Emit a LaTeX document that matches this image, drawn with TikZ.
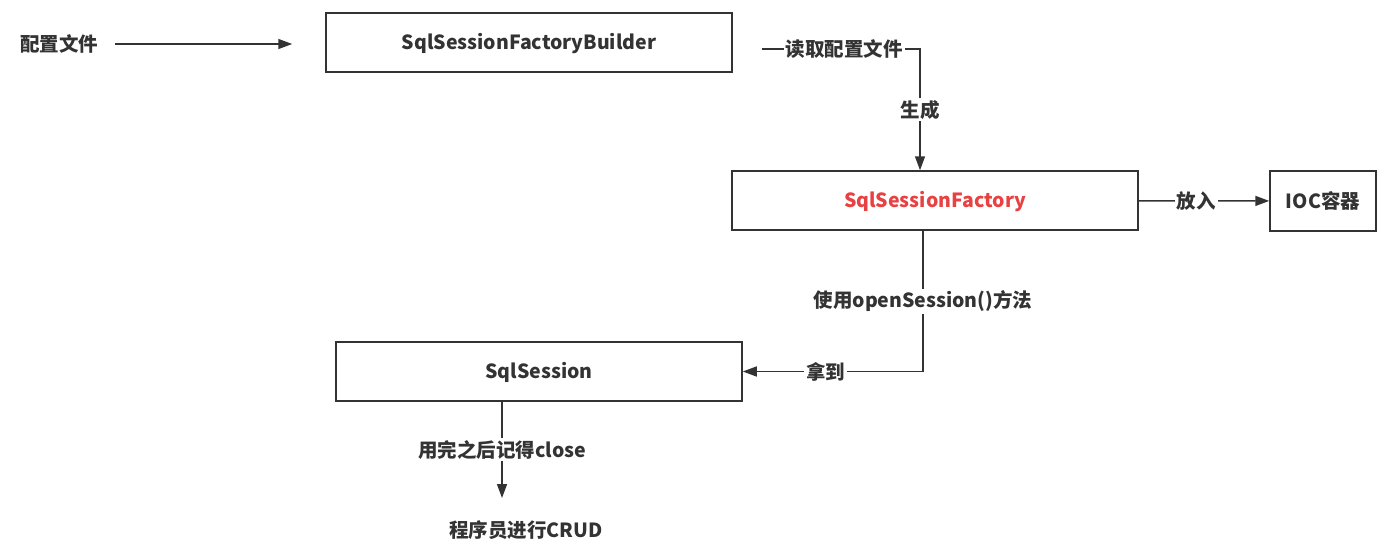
\documentclass[tikz,border=0pt]{standalone}
\usepackage{fontspec}
\usepackage{tikz}
\usetikzlibrary{arrows.meta}
\newfontfamily\cjk{Noto Sans CJK SC}
\definecolor{ink}{HTML}{333333}
\definecolor{hot}{HTML}{E84142}
\tikzset{
	box/.style={draw=ink, line width=1.5pt, minimum width=406pt, minimum height=59pt, inner sep=0pt, text depth=2pt},
	lbl/.style={fill=white, inner sep=2pt, text=ink},
	arr/.style={draw=ink, line width=1.5pt, -{Triangle[length=14pt,width=10pt]}}
}
\begin{document}
\begin{tikzpicture}[x=1pt, y=-1pt, font=\cjk\bfseries\fontsize{19.5}{22}\selectfont, text=ink]
	\useasboundingbox (0,0) rectangle (1389,552);
	
	\node[inner sep=0pt] (cfg) at (59, 44)     {配置文件};
	\node[box] (builder) at (529, 42.5)     {SqlSessionFactoryBuilder};
	\node[box, text=hot] (factory) at (935, 200.5)     {SqlSessionFactory};
	\node[box, minimum width=106pt, minimum height=60pt] (ioc) at (1323, 201)     {IOC容器};
	\node[box] (session) at (539, 371.5)     {SqlSession};
	\node[inner sep=0pt] (crud) at (526, 530)     {程序员进行CRUD};
	\coordinate (rd) at (762, 49);
	\coordinate (crudin) at (502, 498);
	
	\draw[arr, shorten <=17pt, shorten >=33pt] (cfg.east) -- (builder.west |- cfg.east);
	\draw[arr] (rd) -| node[lbl, pos=0.26] {读取配置文件} node[lbl, pos=0.75] {生成} ([xshift=-15pt]factory.north);
	\draw[arr] (factory) -- node[lbl, pos=0.44] {放入} (ioc);
	\draw[arr] ([xshift=-12pt]factory.south) |- node[lbl, pos=0.25] {使用openSession()方法} node[lbl, pos=0.77] {拿到} (session.east);
	\draw[arr] (crudin |- session.south) -- node[lbl] {用完之后记得close} (crudin);
\end{tikzpicture}
\end{document}
